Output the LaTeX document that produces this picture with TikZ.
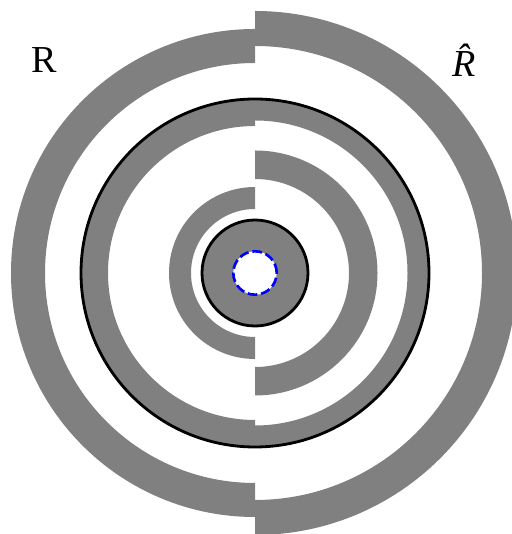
\documentclass[tikz,border=0pt]{standalone}
\usepackage{fontspec}
\setmainfont{Liberation Serif}
\tikzset{
  ring/.style={fill=gray},
  border/.style={draw=black, line width=1.6pt},
  hole/.style={draw=blue, fill=white, line width=1.5pt, dash pattern=on 5.5pt off 2.2pt},
  lbl/.style={anchor=base, font=\fontsize{21.7}{26}\selectfont}
}
\begin{document}
\begin{tikzpicture}[scale=0.02]
\useasboundingbox (-255,-261) rectangle (256,273);

%%%% half rings: from / to / inner / outer
\foreach \a/\b/\ri/\ro in {90/270/210/244, -90/90/227/262,
                           90/270/147/174, -90/90/152.5/174,
                           90/270/64/86,   -90/90/94/122.5}
  \fill[ring] (\a:\ro) arc (\a:\b:\ro) -- (\b:\ri) arc (\b:\a:\ri) -- cycle;

%%%% big circle
\draw[border] (0,0) circle (174);

%%%% core
\filldraw[ring, border] (0,0) circle (53);
\filldraw[hole] (0,0) circle (21.7);

%%%% labels
\node[lbl] (left) at (-210.5,200.3) {R};
\node[lbl] (right) at (209,196.3) {\itshape\^R};

\end{tikzpicture}
\end{document}
